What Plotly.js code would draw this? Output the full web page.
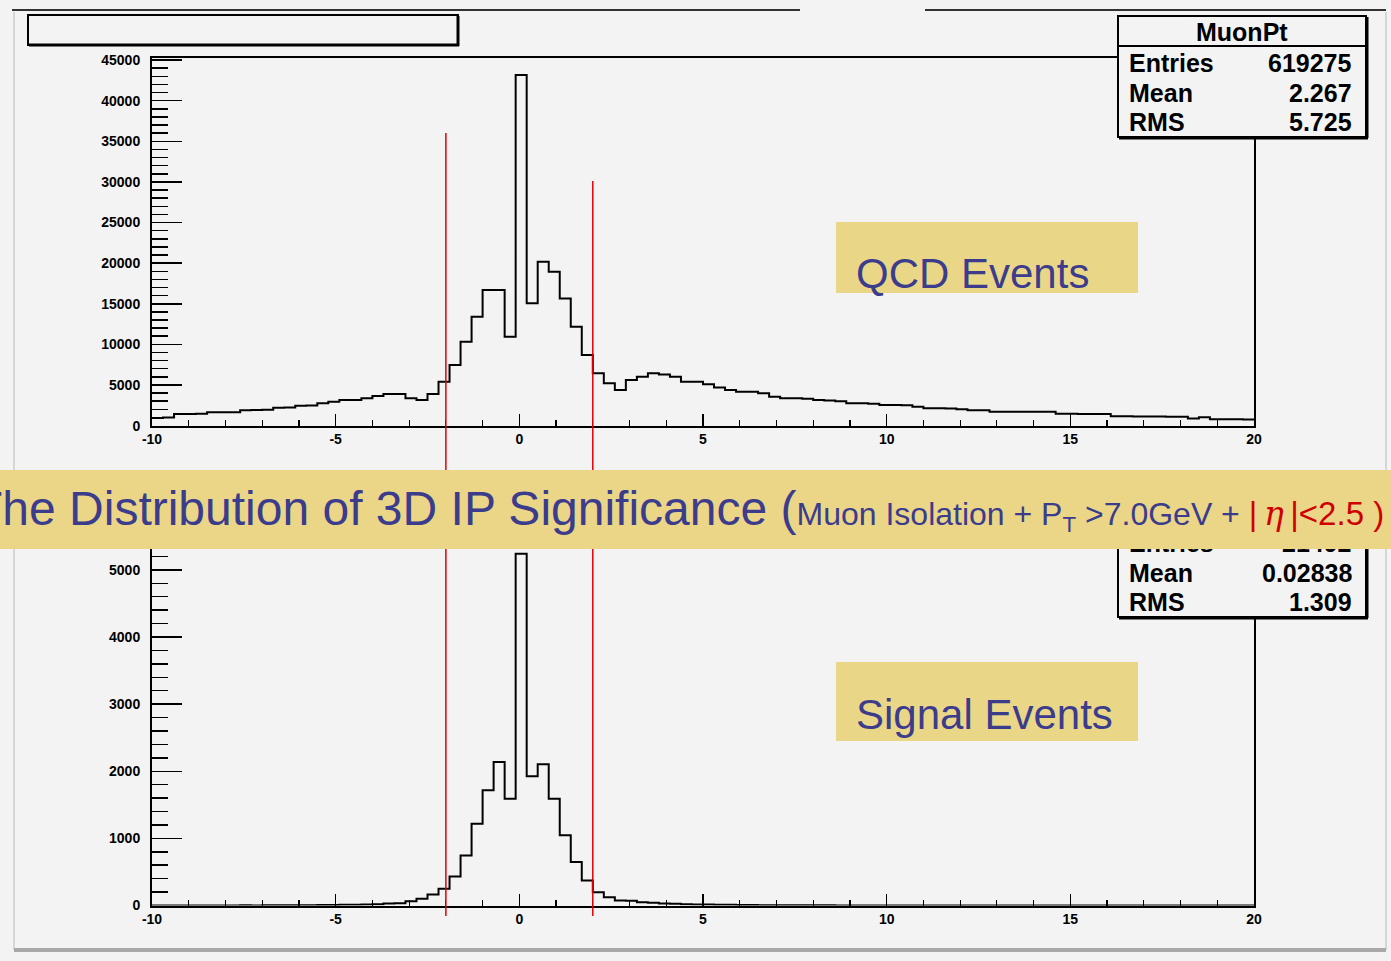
<!DOCTYPE html>
<html><head><meta charset="utf-8">
<script src="https://cdn.plot.ly/plotly-3.0.1.min.js"></script>
<style>html,body{margin:0;padding:0;background:#fff}#chart{width:1391px;height:961px}</style>
</head><body><div id="chart"></div>
<script>
// ---- data ----
const binLow = -10;
const binWidth = 0.3;
const qcdCounts = [
  950, 1000, 1430, 1430, 1450, 1630, 1640, 1650, 1900, 1920,
  1950, 2200, 2220, 2450, 2460, 2740, 2950, 3150, 3160, 3360,
  3640, 3890, 3900, 3360, 3150, 3890, 5400, 7460, 10330, 13400,
  16700, 16700, 10940, 43150, 15050, 20170, 18940, 15660, 12170, 8690,
  6430, 5200, 4380, 5610, 6020, 6430, 6300, 6020, 5410, 5410,
  5100, 4700, 4380, 4180, 4180, 3970, 3560, 3360, 3360, 3300,
  3150, 3100, 3000, 2740, 2740, 2700, 2540, 2540, 2500, 2330,
  2130, 2130, 2100, 2000, 1900, 1900, 1710, 1710, 1700, 1700,
  1690, 1690, 1450, 1450, 1440, 1430, 1420, 1150, 1140, 1130,
  1120, 1110, 1100, 1090, 880, 1020, 770, 770, 770, 760
];
const signalCounts = [
  0, 0, 0, 0, 1, 0, 1, 1, 2, 1,
  2, 3, 3, 4, 5, 6, 8, 10, 12, 15,
  20, 30, 35, 65, 100, 164, 249, 433, 746, 1219,
  1716, 2139, 1592, 5239, 1925, 2104, 1592, 1045, 647, 373,
  199, 124, 75, 70, 50, 40, 30, 25, 20, 16,
  14, 12, 10, 8, 6, 5, 4, 3, 3, 2,
  2, 2, 1, 1, 1, 1, 0, 1, 0, 0,
  0, 0, 0, 0, 0, 0, 0, 0, 0, 0,
  0, 0, 0, 0, 0, 0, 0, 0, 0, 0,
  0, 0, 0, 0, 0, 0, 0, 0, 0, 0
];
const xTickVals = [-10, -5, 0, 5, 10, 15, 20];
const xTickText = ['-10', '-5', '0', '5', '10', '15', '20'];
const cutPositions = [-2, 2];
const statsTitle = 'MuonPt';
const statsLabels = ['Entries', 'Mean', 'RMS'];
const qcdStatValues = ['619275', '2.267', '5.725'];
const signalStatValues = ['21492', '0.02838', '1.309'];
const panelLabels = ['QCD Events', 'Signal Events'];
const bannerMain = 'The Distribution of 3D IP Significance (';
const bannerCuts = 'Muon Isolation + P<sub>T</sub> &gt;7.0GeV + ';
const bannerEta = '|&#8201;<span style="font-family:DejaVu Serif;font-style:italic">η</span>&#8201;|&lt;2.5&nbsp;)';

// ---- helpers ----
const W = 1391, H = 961;
const X = p => p / W;
const Y = p => 1 - p / H;

function stepTrace(counts, xa, ya) {
  const xs = [], ys = [];
  for (let i = 0; i <= counts.length; i++) {
    xs.push(binLow + i * binWidth);
    ys.push(counts[Math.min(i, counts.length - 1)]);
  }
  return {x: xs, y: ys, xaxis: xa, yaxis: ya, type: 'scatter', mode: 'lines',
    line: {shape: 'hv', color: '#000', width: 2}, hoverinfo: 'skip', showlegend: false};
}

const tickFont = {family: 'Liberation Sans, Arial, sans-serif', size: 14, color: '#000', weight: 'bold'};
function xAxis(anchor) {
  return {domain: [X(152), X(1254)], range: [-10, 20], anchor: anchor,
    tickmode: 'array', tickvals: xTickVals, ticktext: xTickText,
    ticks: 'inside', ticklen: 12, tickwidth: 1.5, tickcolor: '#000',
    minor: {dtick: 1, tick0: -10, ticks: 'inside', ticklen: 6, tickwidth: 1.2, tickcolor: '#000'},
    showline: true, linecolor: '#000', linewidth: 2, mirror: true,
    showgrid: false, zeroline: false, tickfont: tickFont, fixedrange: true};
}
function yAxis(anchor, dom, top, major, minor) {
  return {domain: dom, range: [0, top], anchor: anchor,
    tick0: 0, dtick: major, tickformat: 'd', ticks: 'inside', ticklen: 30, tickwidth: 1.5, tickcolor: '#000',
    ticklabelstandoff: 7,
    minor: {dtick: minor, ticks: 'inside', ticklen: 16, tickwidth: 1.5, tickcolor: '#000'},
    showline: true, linecolor: '#000', linewidth: 2, mirror: true,
    showgrid: false, zeroline: false, tickfont: tickFont, fixedrange: true};
}

const shapes = [];
const ann = [];
function line(x0, y0, x1, y1, color, width, layer) {
  shapes.push({type: 'line', xref: 'paper', yref: 'paper', x0: X(x0), y0: Y(y0), x1: X(x1), y1: Y(y1),
    line: {color: color, width: width}, layer: layer || 'above'});
}
function rect(x0, y0, x1, y1, fill, lc, lw) {
  shapes.push({type: 'rect', xref: 'paper', yref: 'paper', x0: X(x0), y0: Y(y0), x1: X(x1), y1: Y(y1),
    fillcolor: fill, line: {color: lc || fill, width: lw || 0}, layer: 'above'});
}
function text(t, x, y, xanchor, size, color, bold) {
  ann.push({text: bold ? '<b>' + t + '</b>' : t, x: X(x), y: Y(y), xref: 'paper', yref: 'paper',
    xanchor: xanchor, yanchor: 'middle', showarrow: false,
    font: {family: 'Liberation Sans, Arial, sans-serif', size: size, color: color}});
}

// canvas borders
line(12, 10, 800, 10, '#333', 2);
line(925, 10, 1386, 10, '#333', 2);
line(14, 12, 14, 950, '#d6d6d6', 2);
line(1386, 12, 1386, 950, '#d6d6d6', 2);
line(14, 950, 1386, 950, '#a9a9a9', 4);

// title box (empty)
rect(28, 15, 458, 45, '#f3f3f3', '#000', 2);
line(458, 16, 458, 46, '#000', 3);
line(29, 45, 459, 45, '#000', 3);

// stats boxes
function statsBox(top, values) {
  const rowH = 29.5;
  const bottom = top + 121;
  rect(1118, top, 1366, bottom, '#f3f3f3', '#000', 2);
  line(1367, top + 1, 1367, bottom + 1, '#000', 3);
  line(1119, bottom + 1, 1368, bottom + 1, '#000', 3);
  line(1118, top + 30, 1366, top + 30, '#000', 2);
  text(statsTitle, 1242, top + 16, 'center', 25, '#000', true);
  statsLabels.forEach((l, i) => {
    text(l, 1127, top + 47 + i * rowH, 'left', 25, '#000', true);
    text(values[i], 1354, top + 47 + i * rowH, 'right', 25, '#000', true);
  });
}
statsBox(16, qcdStatValues);
statsBox(496, signalStatValues);

// panel labels
rect(836, 222, 1138, 293, '#ead687');
rect(836, 662, 1138, 741, '#ead687');
text(panelLabels[0], 854, 273, 'left', 42, '#3c3c8c', false);
text(panelLabels[1], 854, 714, 'left', 42, '#3c3c8c', false);

// cut lines
shapes.push({type: 'line', xref: 'x', yref: 'paper', x0: cutPositions[0], x1: cutPositions[0],
  y0: Y(916), y1: Y(133), line: {color: '#e00000', width: 1.5}, layer: 'above'});
shapes.push({type: 'line', xref: 'x', yref: 'paper', x0: cutPositions[1], x1: cutPositions[1],
  y0: Y(916), y1: Y(181), line: {color: '#e00000', width: 1.5}, layer: 'above'});

// banner
ann.push({
  text: bannerMain + '<span style="font-size:32px">' + bannerCuts + '</span>' +
        '<span style="font-size:33px;color:#d00000">' + bannerEta + '</span>',
  x: X(-27), y: Y(510), xref: 'paper', yref: 'paper', xanchor: 'left', yanchor: 'middle',
  width: 1450, height: 79, align: 'left', valign: 'middle', bgcolor: '#ebd687',
  borderpad: 0, borderwidth: 0, showarrow: false,
  font: {family: 'Liberation Sans, Arial, sans-serif', size: 48, color: '#3c3c8c'}
});

const data = [stepTrace(qcdCounts, 'x', 'y'), stepTrace(signalCounts, 'x2', 'y2')];
const layout = {
  width: W, height: H, margin: {l: 0, r: 0, t: 0, b: 0},
  paper_bgcolor: '#f3f3f3', plot_bgcolor: 'rgba(0,0,0,0)', showlegend: false,
  xaxis: xAxis('y'),
  yaxis: yAxis('x', [Y(425.6), Y(57.6)], 45300, 5000, 1000),
  xaxis2: xAxis('y2'),
  yaxis2: yAxis('x2', [Y(905.5), Y(539)], 5460, 1000, 200),
  shapes: shapes, annotations: ann
};
Plotly.newPlot('chart', data, layout, {displayModeBar: false, staticPlot: true});
</script>
</body></html>
